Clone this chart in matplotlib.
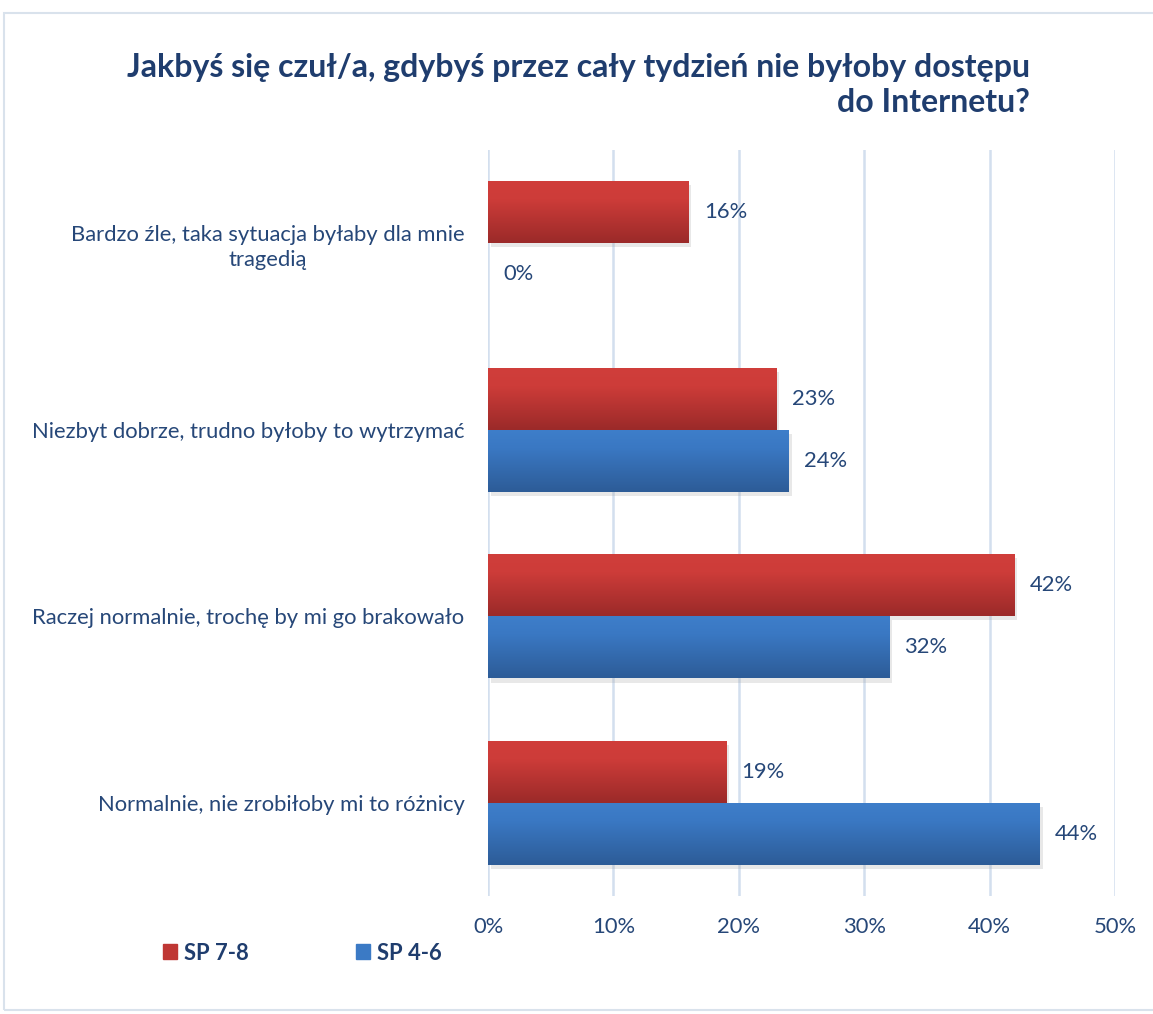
import matplotlib.pyplot as plt
import numpy as np
from matplotlib import patheffects
from matplotlib.colors import LinearSegmentedColormap
from matplotlib.patches import Rectangle

# data
categories = ['Bardzo źle, taka sytuacja byłaby dla mnie\ntragedią',
              'Niezbyt dobrze, trudno byłoby to wytrzymać',
              'Raczej normalnie, trochę by mi go brakowało',
              'Normalnie, nie zrobiłoby mi to różnicy']
series_names = ['SP 7-8', 'SP 4-6']
sp78 = [16, 23, 42, 19]
sp46 = [0, 24, 32, 44]
xticks = [0, 10, 20, 30, 40, 50]

title = 'Jakbyś się czuł/a, gdybyś przez cały tydzień nie byłoby dostępu\ndo Internetu?'

plt.rcParams['font.family'] = ['Lato', 'DejaVu Sans']
txt_col = '#264778'
title_col = '#1F3D6E'
fs = 15.8

red_cmap = LinearSegmentedColormap.from_list('r', [(0, '#D03E3B'), (0.3, '#CD3C39'), (1, '#9B2A29')])
blue_cmap = LinearSegmentedColormap.from_list('b', [(0, '#3E7ECA'), (0.3, '#3A78C3'), (1, '#2D5C97')])

fig = plt.figure(figsize=(11.53, 10.14), dpi=100)
ax = fig.add_axes([488 / 1153, 1 - 896 / 1014, (1115 - 488) / 1153, (896 - 150) / 1014])

y = np.arange(len(categories))
h = 1 / 3
grad = np.linspace(0, 1, 100).reshape(-1, 1)

shadow = [patheffects.SimplePatchShadow(offset=(2, -3), shadow_rgbFace='#999999', alpha=0.22),
          patheffects.Normal()]

for vals, off, cmap in [(sp78, -h / 2, red_cmap), (sp46, h / 2, blue_cmap)]:
    bars = ax.barh(y + off, vals, height=h, color=cmap(0.5), zorder=3)
    for b, v in zip(bars, vals):
        if v > 0:
            b.set_path_effects(shadow)
            x0, y0 = b.get_x(), b.get_y()
            im = ax.imshow(grad, cmap=cmap, aspect='auto', zorder=4,
                           extent=(x0, x0 + b.get_width(), y0 + b.get_height(), y0))
            im.set_clip_path(b)
        ax.annotate(f'{v}%', xy=(v, b.get_y() + b.get_height() / 2), xytext=(11, 0),
                    textcoords='offset points', va='center', ha='left',
                    fontsize=fs, color=txt_col, zorder=5)

ax.set_xlim(0, 50)
ax.set_ylim(len(categories) - 0.5, -0.5)
ax.set_xticks(xticks)
ax.set_xticklabels([f'{t}%' for t in xticks], fontsize=fs, color=txt_col)
ax.set_yticks(y)
ax.set_yticklabels(categories, fontsize=fs, color=txt_col, multialignment='center', linespacing=1.3)
ax.tick_params(axis='x', length=0, pad=15)
ax.tick_params(axis='y', length=0, pad=17)
ax.grid(axis='x', color='#D3DFEE', lw=1.8, zorder=0)
ax.set_axisbelow(True)
for s in ax.spines.values():
    s.set_visible(False)

fig.text(1030 / 1153, 1 - 85 / 1014, title, ha='right', va='center', multialignment='right',
         fontsize=23, fontweight='bold', color=title_col, linespacing=1.25)

handles = [Rectangle((0, 0), 1, 1, color=red_cmap(0.5)), Rectangle((0, 0), 1, 1, color=blue_cmap(0.2))]
leg = fig.legend(handles, series_names, loc='center left', bbox_to_anchor=(163 / 1153, 1 - 953 / 1014),
                 ncol=2, frameon=False, borderpad=0, borderaxespad=0, handlelength=0.65, handleheight=0.65,
                 handletextpad=0.3, columnspacing=4.9, prop={'size': fs, 'weight': 'bold'})
for t in leg.get_texts():
    t.set_color(title_col)

fig.patches.append(Rectangle((4 / 1153, 1 - 1010 / 1014), 1.2, (1010 - 13) / 1014, fill=False,
                             edgecolor='#D9E2EC', lw=1.5, transform=fig.transFigure))

fig.savefig('out.png', dpi=100)
